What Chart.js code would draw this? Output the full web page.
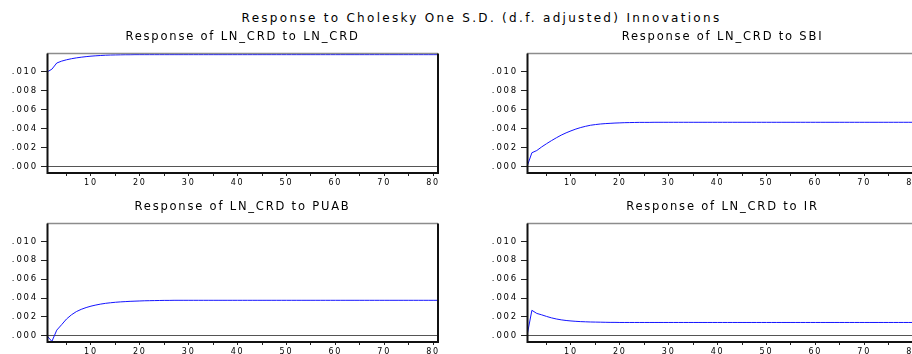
<!DOCTYPE html>
<html>
<head>
<meta charset="utf-8">
<title>Response to Cholesky One S.D. Innovations</title>
<script src="https://cdn.jsdelivr.net/npm/chart.js@4.4.1/dist/chart.umd.min.js"></script>
<style>
    html, body { margin: 0; padding: 0; background: #fff; }
    body { width: 912px; height: 354px; overflow: hidden; position: relative; }
    canvas { position: absolute; }
    #mainTitle {
        position: absolute; left: 0; top: 11px; width: 963px;
        text-align: center; font: 12px "DejaVu Sans", sans-serif;
        letter-spacing: 2.3px; line-height: 14px; color: #000;
    }
</style>
</head>
<body>
<div id="mainTitle">Response to Cholesky One S.D. (d.f. adjusted) Innovations</div>
<canvas id="c1" width="456" height="190" style="left:0;top:0"></canvas>
<canvas id="c2" width="456" height="190" style="left:480px;top:0"></canvas>
<canvas id="c3" width="456" height="184" style="left:0;top:170px"></canvas>
<canvas id="c4" width="456" height="184" style="left:480px;top:170px"></canvas>
<script>
// periods 1..81
const periods = [
    1, 2, 3, 4, 5, 6, 7, 8, 9, 10, 11, 12, 13, 14, 15, 16, 17, 18, 19, 20,
    21, 22, 23, 24, 25, 26, 27, 28, 29, 30, 31, 32, 33, 34, 35, 36, 37, 38, 39, 40,
    41, 42, 43, 44, 45, 46, 47, 48, 49, 50, 51, 52, 53, 54, 55, 56, 57, 58, 59, 60,
    61, 62, 63, 64, 65, 66, 67, 68, 69, 70, 71, 72, 73, 74, 75, 76, 77, 78, 79, 80, 81
];

const respLnCrd = [
    0.00995, 0.01025, 0.01090, 0.01110, 0.01124, 0.01135, 0.01144, 0.01151, 0.01157, 0.01162,
    0.01166, 0.01169, 0.01172, 0.01174, 0.01175, 0.01176, 0.01177, 0.01177, 0.01178, 0.01178,
    0.01178, 0.01178, 0.01178, 0.01178, 0.01178, 0.01178, 0.01178, 0.01178, 0.01178, 0.01178,
    0.01178, 0.01178, 0.01178, 0.01178, 0.01178, 0.01178, 0.01178, 0.01178, 0.01178, 0.01178,
    0.01178, 0.01178, 0.01178, 0.01178, 0.01178, 0.01178, 0.01178, 0.01178, 0.01178, 0.01178,
    0.01178, 0.01178, 0.01178, 0.01178, 0.01178, 0.01178, 0.01178, 0.01178, 0.01178, 0.01178,
    0.01178, 0.01178, 0.01178, 0.01178, 0.01178, 0.01178, 0.01178, 0.01178, 0.01178, 0.01178,
    0.01178, 0.01178, 0.01178, 0.01178, 0.01178, 0.01178, 0.01178, 0.01178, 0.01178, 0.01178,
    0.01178
];

const respSbi = [
    0, 0.00147, 0.00170, 0.00208, 0.00242, 0.00274, 0.00304, 0.00332, 0.00356, 0.00377,
    0.00396, 0.00412, 0.00425, 0.00436, 0.00443, 0.00449, 0.00453, 0.00456, 0.00459, 0.00461,
    0.00463, 0.00464, 0.00465, 0.00466, 0.00466, 0.00466, 0.00467, 0.00467, 0.00467, 0.00467,
    0.00467, 0.00467, 0.00467, 0.00467, 0.00467, 0.00467, 0.00467, 0.00467, 0.00467, 0.00467,
    0.00467, 0.00467, 0.00467, 0.00467, 0.00467, 0.00467, 0.00467, 0.00467, 0.00467, 0.00467,
    0.00467, 0.00467, 0.00467, 0.00467, 0.00467, 0.00467, 0.00467, 0.00467, 0.00467, 0.00467,
    0.00467, 0.00467, 0.00467, 0.00467, 0.00467, 0.00467, 0.00467, 0.00467, 0.00467, 0.00467,
    0.00467, 0.00467, 0.00467, 0.00467, 0.00467, 0.00467, 0.00467, 0.00467, 0.00467, 0.00467,
    0.00467
];

const respPuab = [
    0, -0.00060, 0.00060, 0.00118, 0.00178, 0.00222, 0.00256, 0.00280, 0.00299, 0.00314,
    0.00326, 0.00336, 0.00344, 0.00350, 0.00355, 0.00359, 0.00362, 0.00365, 0.00367, 0.00369,
    0.00371, 0.00372, 0.00373, 0.00374, 0.00375, 0.00375, 0.00376, 0.00376, 0.00376, 0.00376,
    0.00376, 0.00376, 0.00376, 0.00376, 0.00376, 0.00376, 0.00376, 0.00376, 0.00376, 0.00376,
    0.00376, 0.00376, 0.00376, 0.00376, 0.00376, 0.00376, 0.00376, 0.00376, 0.00376, 0.00376,
    0.00376, 0.00376, 0.00376, 0.00376, 0.00376, 0.00376, 0.00376, 0.00376, 0.00376, 0.00376,
    0.00376, 0.00376, 0.00376, 0.00376, 0.00376, 0.00376, 0.00376, 0.00376, 0.00376, 0.00376,
    0.00376, 0.00376, 0.00376, 0.00376, 0.00376, 0.00376, 0.00376, 0.00376, 0.00376, 0.00376,
    0.00376
];

const respIr = [
    0, 0.00270, 0.00237, 0.00222, 0.00205, 0.00190, 0.00178, 0.00169, 0.00162, 0.00157,
    0.00153, 0.00150, 0.00148, 0.00146, 0.00145, 0.00144, 0.00143, 0.00142, 0.00142, 0.00141,
    0.00141, 0.00141, 0.00141, 0.00141, 0.00141, 0.00141, 0.00141, 0.00141, 0.00141, 0.00141,
    0.00141, 0.00141, 0.00141, 0.00141, 0.00141, 0.00141, 0.00141, 0.00141, 0.00141, 0.00141,
    0.00141, 0.00141, 0.00141, 0.00141, 0.00141, 0.00141, 0.00141, 0.00141, 0.00141, 0.00141,
    0.00141, 0.00141, 0.00141, 0.00141, 0.00141, 0.00141, 0.00141, 0.00141, 0.00141, 0.00141,
    0.00141, 0.00141, 0.00141, 0.00141, 0.00141, 0.00141, 0.00141, 0.00141, 0.00141, 0.00141,
    0.00141, 0.00141, 0.00141, 0.00141, 0.00141, 0.00141, 0.00141, 0.00141, 0.00141, 0.00141,
    0.00141
];

const panelTitles = [
    'Response of LN_CRD to LN_CRD',
    'Response of LN_CRD to SBI',
    'Response of LN_CRD to PUAB',
    'Response of LN_CRD to IR'
];

const xTicks = [5, 10, 15, 20, 25, 30, 35, 40, 45, 50, 55, 60, 65, 70, 75, 80];
const yTicks = [0, 0.002, 0.004, 0.006, 0.008, 0.010];
const yMin = -0.00066;
const yMax = 0.0119;

const fontFamily = '"DejaVu Sans", sans-serif';

// EViews-like box: gray top edge, black on the other three
const framePlugin = {
    id: 'frame',
    afterDraw(chart) {
        const ctx = chart.ctx;
        const a = chart.chartArea;
        ctx.save();
        ctx.lineWidth = 1.5;
        ctx.strokeStyle = '#8c8c8c';
        ctx.beginPath();
        ctx.moveTo(a.left, a.top);
        ctx.lineTo(a.right, a.top);
        ctx.stroke();
        ctx.lineWidth = 2;
        ctx.strokeStyle = '#111';
        ctx.beginPath();
        ctx.moveTo(a.left + 0.5, a.top);
        ctx.lineTo(a.left + 0.5, a.bottom);
        ctx.lineTo(a.right, a.bottom);
        ctx.lineTo(a.right, a.top);
        ctx.stroke();
        ctx.restore();
    }
};

// the reference text is drawn wide, so space the letters out
const spacingPlugin = {
    id: 'spacing',
    beforeDraw(chart) {
        chart.ctx.letterSpacing = '1.8px';
    }
};

function makePanel(id, title, values, xAxisHeight) {
    return new Chart(document.getElementById(id), {
        type: 'line',
        data: {
            labels: periods,
            datasets: [{
                data: values,
                borderColor: '#1414ff',
                borderWidth: 1,
                pointRadius: 0,
                tension: 0,
                fill: false
            }]
        },
        options: {
            responsive: false,
            animation: false,
            layout: { padding: { left: 0, right: 18, top: 0, bottom: 0 } },
            plugins: {
                legend: { display: false },
                tooltip: { enabled: false },
                title: {
                    display: true,
                    text: title,
                    fullSize: false,
                    color: '#000',
                    font: { family: fontFamily, size: 11.5, weight: 'normal', lineHeight: 1.2 },
                    padding: { top: 30, bottom: 9.7 }
                }
            },
            scales: {
                x: {
                    type: 'linear',
                    min: 1,
                    max: 81,
                    afterBuildTicks: s => { s.ticks = xTicks.map(v => ({ value: v })); },
                    afterFit: s => { s.height = xAxisHeight; },
                    ticks: {
                        autoSkip: false,
                        maxRotation: 0,
                        padding: 2,
                        color: '#000',
                        font: { family: fontFamily, size: 8 },
                        callback: v => (v % 10 === 0 ? String(v) : '')
                    },
                    grid: { color: 'transparent', tickColor: '#222', tickLength: 3 },
                    border: { display: false }
                },
                y: {
                    type: 'linear',
                    min: yMin,
                    max: yMax,
                    afterBuildTicks: s => { s.ticks = yTicks.map(v => ({ value: v })); },
                    afterFit: s => { s.width = 47; },
                    ticks: {
                        padding: 3,
                        color: '#000',
                        font: { family: fontFamily, size: 8.5 },
                        callback: v => v.toFixed(3).replace(/^(-?)0/, '$1')
                    },
                    grid: {
                        color: c => (c.tick && c.tick.value === 0 ? '#555' : 'transparent'),
                        tickColor: '#222',
                        tickLength: 6
                    },
                    border: { display: false }
                }
            }
        },
        plugins: [spacingPlugin, framePlugin]
    });
}

makePanel('c1', panelTitles[0], respLnCrd, 17);
makePanel('c2', panelTitles[1], respSbi, 17);
makePanel('c3', panelTitles[2], respPuab, 12);
makePanel('c4', panelTitles[3], respIr, 12);
</script>
</body>
</html>
